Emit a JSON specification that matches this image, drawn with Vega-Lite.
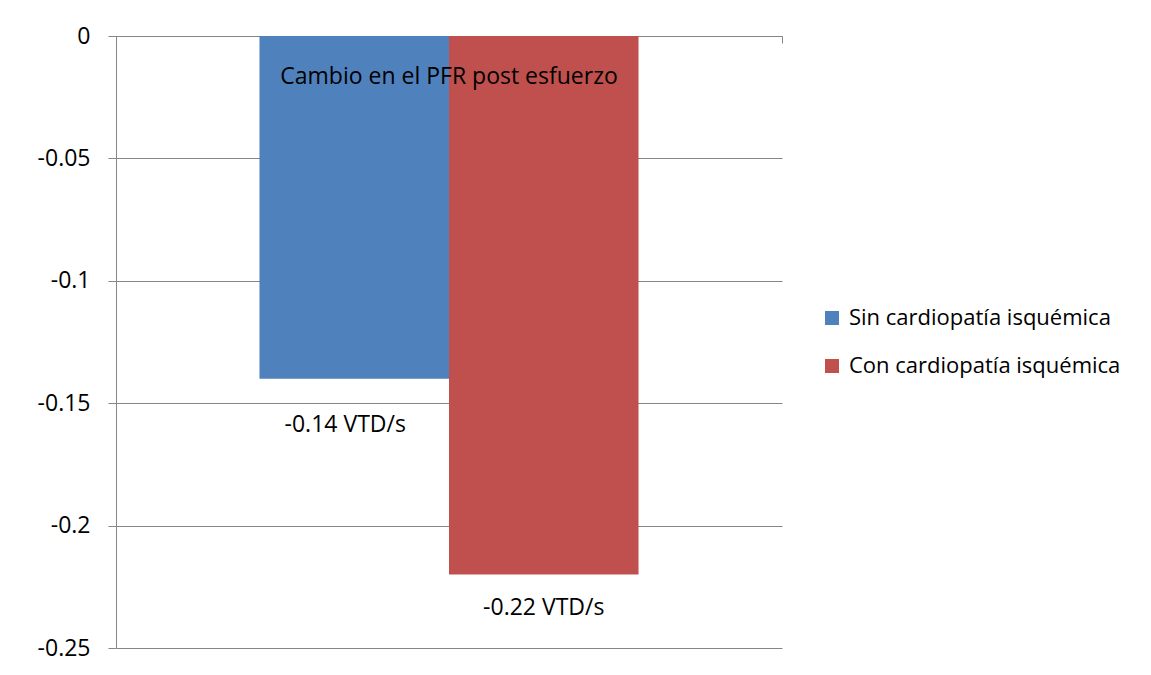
{
  "$schema": "https://vega.github.io/schema/vega-lite/v6.json",
  "width": 666,
  "height": 612,
  "autosize": "none",
  "padding": {"left": 116, "top": 36, "right": 369, "bottom": 27},
  "background": "white",
  "config": {"view": {"stroke": null}},
  "title": {
    "text": "Cambio en el PFR post esfuerzo",
    "font": "Open Sans",
    "fontSize": 23,
    "fontWeight": "normal",
    "color": "black",
    "anchor": "middle",
    "frame": "group",
    "baseline": "alphabetic",
    "offset": 0,
    "dy": 82
  },
  "data": {
    "values": [
      {"grupo": "PFR", "serie": "Sin cardiopatía isquémica", "valor": -0.14, "etiqueta": "-0.14 VTD/s"},
      {"grupo": "PFR", "serie": "Con cardiopatía isquémica", "valor": -0.22, "etiqueta": "-0.22 VTD/s"}
    ]
  },
  "encoding": {
    "x": {
      "field": "grupo",
      "type": "nominal",
      "scale": {"paddingInner": 0, "paddingOuter": 0},
      "axis": {
        "orient": "top",
        "title": null,
        "labels": false,
        "tickBand": "extent",
        "tickSize": -7,
        "domainColor": "#868686",
        "tickColor": "#868686",
        "grid": false,
        "zindex": 0
      }
    },
    "xOffset": {
      "field": "serie",
      "type": "nominal",
      "sort": ["Sin cardiopatía isquémica", "Con cardiopatía isquémica"],
      "scale": {"paddingInner": 0, "paddingOuter": 0.757}
    },
    "y": {
      "field": "valor",
      "type": "quantitative",
      "stack": null,
      "scale": {"domain": [-0.25, 0], "nice": false, "zero": false},
      "axis": {
        "title": null,
        "values": [0, -0.05, -0.1, -0.15, -0.2, -0.25],
        "labelExpr": "datum.value == 0 ? '0' : '-' + format(-datum.value, '~g')",
        "grid": true,
        "gridColor": "#868686",
        "gridWidth": 1,
        "domainColor": "#868686",
        "tickColor": "#868686",
        "tickSize": 8,
        "labelPadding": 18,
        "labelFont": "Open Sans",
        "labelFontSize": 23,
        "labelColor": "black",
        "zindex": 0
      }
    }
  },
  "layer": [
    {
      "mark": {"type": "bar"},
      "encoding": {
        "y2": {"datum": 0},
        "color": {
          "field": "serie",
          "type": "nominal",
          "scale": {
            "domain": ["Sin cardiopatía isquémica", "Con cardiopatía isquémica"],
            "range": ["#4F81BD", "#C0504D"]
          },
          "legend": {
            "orient": "none",
            "legendX": 705,
            "legendY": 271,
            "title": null,
            "symbolType": "square",
            "symbolSize": 196,
            "symbolStrokeWidth": 0,
            "symbolOpacity": 1,
            "labelFont": "Open Sans",
            "labelFontSize": 22,
            "labelColor": "black",
            "labelLimit": 400,
            "labelOffset": 6,
            "rowPadding": 26
          }
        }
      }
    },
    {
      "transform": [{"filter": "datum.valor == -0.14"}],
      "mark": {"type": "text", "baseline": "middle", "align": "center", "dy": 46, "dx": -9, "font": "Open Sans", "fontSize": 23, "color": "black"},
      "encoding": {"text": {"field": "etiqueta"}}
    },
    {
      "transform": [{"filter": "datum.valor == -0.22"}],
      "mark": {"type": "text", "baseline": "middle", "align": "center", "dy": 33, "font": "Open Sans", "fontSize": 23, "color": "black"},
      "encoding": {"text": {"field": "etiqueta"}}
    }
  ]
}
